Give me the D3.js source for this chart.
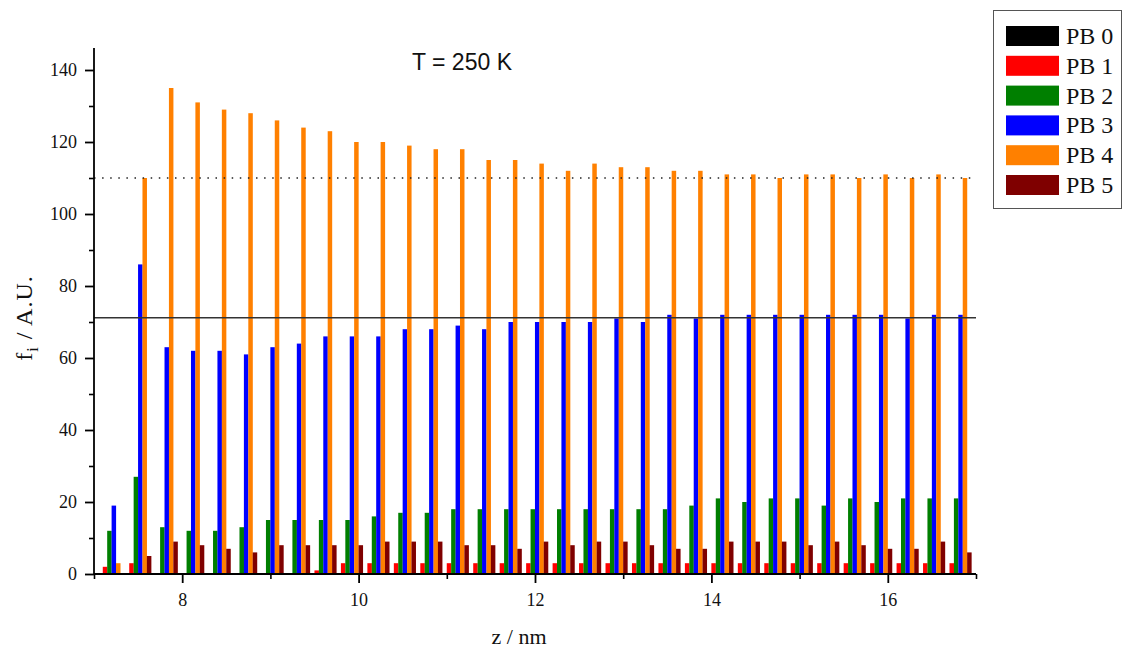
<!DOCTYPE html>
<html>
<head>
<meta charset="utf-8">
<script src="https://cdn.jsdelivr.net/npm/d3@7"></script>
<style>
  html, body { margin: 0; padding: 0; background: #fff; }
  svg { display: block; }
</style>
</head>
<body>
<svg id="chart" width="1122" height="649"></svg>
<script>
// Positions along z (nm) where the bars are grouped
const zValues = [7.2, 7.5, 7.8, 8.1, 8.4, 8.7, 9.0, 9.3, 9.6, 9.9, 10.2, 10.5, 10.8,
  11.1, 11.4, 11.7, 12.0, 12.3, 12.6, 12.9, 13.2, 13.5, 13.8, 14.1, 14.4, 14.7,
  15.0, 15.3, 15.6, 15.9, 16.2, 16.5, 16.8];

const seriesNames = ["PB 0", "PB 1", "PB 2", "PB 3", "PB 4", "PB 5"];
const seriesColors = ["#000000", "#ff0000", "#007f00", "#0000ff", "#ff8000", "#7f0000"];

const pb0 = [0,0,0,0,0,0,0,0,0,0,0,0,0,0,0,0,0,0,0,0,0,0,0,0,0,0,0,0,0,0,0,0,0];
const pb1 = [2,3,0,0,0,0,0,0,1,3,3,3,3,3,3,3,3,3,3,3,3,3,3,3,3,3,3,3,3,3,3,3,3];
const pb2 = [12,27,13,12,12,13,15,15,15,15,16,17,17,18,18,18,18,18,18,18,18,18,19,21,20,21,21,19,21,20,21,21,21];
const pb3 = [19,86,63,62,62,61,63,64,66,66,66,68,68,69,68,70,70,70,70,71,70,72,71,72,72,72,72,72,72,72,71,72,72];
const pb4 = [3,110,135,131,129,128,126,124,123,120,120,119,118,118,115,115,114,112,114,113,113,112,112,111,111,110,111,111,110,111,110,111,110];
const pb5 = [0,5,9,8,7,6,8,8,8,8,9,9,9,8,8,7,9,8,9,9,8,7,7,9,9,9,8,9,8,7,7,9,6];

const allSeries = [pb0, pb1, pb2, pb3, pb4, pb5];

// Reference levels drawn across the plot
const solidLevel = 71.2;
const dottedLevel = 110;

const xTickMajor = [8, 10, 12, 14, 16];
const yTickMajor = [0, 20, 40, 60, 80, 100, 120, 140];

const svg = d3.select("#chart");
const plotLeft = 94, plotRight = 976, plotTop = 48, plotBottom = 574;

const x = d3.scaleLinear().domain([7, 17]).range([plotLeft, plotRight]);
const y = d3.scaleLinear().domain([0, 140]).range([plotBottom, 70]);
const yTopValue = y.invert(plotTop);

const serif = "'Liberation Serif', 'Times New Roman', serif";
const sans = "'Liberation Sans', Arial, sans-serif";

// Bars: six slots per group, centred on each z value
const groupWidth = x(7.3) - x(7.0);
const slot = groupWidth / 6;
const barW = slot * 1.02;

const gBars = svg.append("g");
allSeries.forEach((vals, si) => {
  gBars.selectAll(null)
    .data(vals.map((v, i) => ({ z: zValues[i], v })))
    .enter().append("rect")
    .attr("x", d => x(d.z) + (si - 3) * slot + (slot - barW) / 2)
    .attr("y", d => y(d.v))
    .attr("width", barW)
    .attr("height", d => y(0) - y(d.v))
    .attr("fill", seriesColors[si]);
});

// Reference lines
svg.append("line")
  .attr("x1", plotLeft).attr("x2", plotRight)
  .attr("y1", y(solidLevel)).attr("y2", y(solidLevel))
  .attr("stroke", "#333").attr("stroke-width", 1.4);
svg.append("line")
  .attr("x1", plotLeft).attr("x2", plotRight)
  .attr("y1", y(dottedLevel)).attr("y2", y(dottedLevel))
  .attr("stroke", "#222").attr("stroke-width", 1.4)
  .attr("stroke-dasharray", "1.5,6.6");

// X axis: major ticks labelled, minor ticks between
const xMinor = d3.range(7, 17.01, 1).filter(v => !xTickMajor.includes(v));
const gx = svg.append("g").attr("transform", `translate(0,${plotBottom})`);
gx.append("g")
  .call(d3.axisBottom(x).tickValues(xMinor).tickSize(5).tickFormat(""))
  .call(g => g.select(".domain").remove())
  .selectAll("line").attr("stroke-width", 1.6);
gx.append("g")
  .call(d3.axisBottom(x).tickValues(xTickMajor).tickSize(9).tickPadding(10).tickFormat(d3.format("d")))
  .call(g => g.select(".domain").remove())
  .call(g => g.selectAll("line").attr("stroke-width", 1.8))
  .call(g => g.selectAll("text").attr("font-family", serif).attr("font-size", 18).attr("fill", "#111"));
gx.append("line").attr("x1", plotLeft).attr("x2", plotRight).attr("stroke", "#000").attr("stroke-width", 1.8);

// Y axis
const yMinor = d3.range(10, 146, 20);
const gy = svg.append("g").attr("transform", `translate(${plotLeft},0)`);
gy.append("g")
  .call(d3.axisLeft(y).tickValues(yMinor).tickSize(5).tickFormat(""))
  .call(g => g.select(".domain").remove())
  .selectAll("line").attr("stroke-width", 1.6);
gy.append("g")
  .call(d3.axisLeft(y).tickValues(yTickMajor).tickSize(9).tickPadding(8).tickFormat(d3.format("d")))
  .call(g => g.select(".domain").remove())
  .call(g => g.selectAll("line").attr("stroke-width", 1.8))
  .call(g => g.selectAll("text").attr("font-family", serif).attr("font-size", 18).attr("fill", "#111"));
gy.append("line").attr("y1", y(yTopValue)).attr("y2", plotBottom + 1).attr("stroke", "#000").attr("stroke-width", 1.8);

// Axis titles
svg.append("text")
  .attr("x", 519).attr("y", 644)
  .attr("text-anchor", "middle")
  .attr("font-family", serif).attr("font-size", 22).attr("fill", "#111")
  .text("z / nm");

const yLabel = svg.append("text")
  .attr("transform", "translate(32,318) rotate(-90)")
  .attr("text-anchor", "middle")
  .attr("font-family", serif).attr("font-size", 24).attr("fill", "#111")
  .attr("letter-spacing", 1);
yLabel.append("tspan").text("f");
yLabel.append("tspan").attr("font-size", 16).attr("dy", 6).text("i");
yLabel.append("tspan").attr("dy", -6).text(" / A.U.");

// Title
svg.append("text")
  .attr("x", 462).attr("y", 70)
  .attr("text-anchor", "middle")
  .attr("font-family", sans).attr("font-size", 23).attr("fill", "#111")
  .text("T = 250 K");

// Legend
const lg = svg.append("g");
lg.append("rect")
  .attr("x", 993.5).attr("y", 10.5).attr("width", 128).attr("height", 198)
  .attr("fill", "#fff").attr("stroke", "#555").attr("stroke-width", 1);
seriesNames.forEach((name, i) => {
  const cy = 36 + i * 29.8;
  lg.append("rect")
    .attr("x", 1006).attr("y", cy - 10).attr("width", 53).attr("height", 20)
    .attr("fill", seriesColors[i]);
  lg.append("text")
    .attr("x", 1066).attr("y", cy + 8)
    .attr("font-family", serif).attr("font-size", 24).attr("fill", "#111")
    .text(name);
});
</script>
</body>
</html>
